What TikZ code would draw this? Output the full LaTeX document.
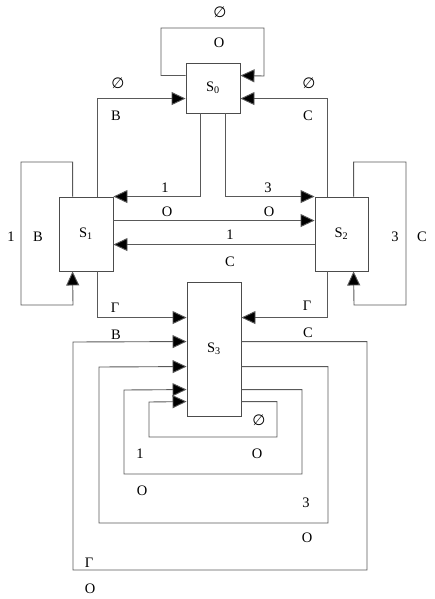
\documentclass[tikz,border=0pt]{standalone}
\usepackage{fontspec}
\setmainfont{Liberation Serif}
\newfontfamily\djv{DejaVu Sans}
\usetikzlibrary{arrows.meta}
\begin{document}
\begin{tikzpicture}[x=1pt,y=-1pt,
  ln/.style={draw=black!65, line width=0.9pt},
  arr/.style={ln, -{Triangle[length=14pt,width=13pt,fill=black]}},
  box/.style={draw=black!70, line width=0.9pt, rectangle, inner sep=0pt, fill=white,
     font=\fontsize{14.5}{16}\selectfont},
  lbl/.style={inner sep=0pt, font=\fontsize{14.5}{16}\selectfont},
  emp/.style={inner sep=0pt, font=\djv\fontsize{15}{16}\selectfont}]
\useasboundingbox (0,0) rectangle (434,599);
% boxes
\node[box, minimum width=54pt, minimum height=50pt] (S0) at (213,88) {S\textsubscript{0}};
\node[box, minimum width=54pt, minimum height=74pt] (S1) at (86,234) {S\textsubscript{1}};
\node[box, minimum width=53pt, minimum height=74pt] (S2) at (341.5,234) {S\textsubscript{2}};
\node[box, minimum width=54pt, minimum height=134pt] (S3) at (214,349) {S\textsubscript{3}};
% S0 self loop
\draw[arr] ([yshift=-13pt]S0.north west) -| (161,28) -| (264,76) -- ([yshift=-13pt]S0.north east);
% S1 -> S0, S2 -> S0
\draw[arr] ([xshift=39pt]S1.north west) |- ([yshift=-36pt]S0.north west);
\draw[arr] ([xshift=13pt]S2.north west) |- ([yshift=-36pt]S0.north east);
% S0 -> S1, S0 -> S2
\draw[arr] ([xshift=15pt]S0.south west) |- (S1.north east);
\draw[arr] ([xshift=40pt]S0.south west) |- (S2.north west);
% S1 <-> S2
\draw[arr] ([yshift=-24pt]S1.north east) -- ([yshift=-24pt]S2.north west);
\draw[arr] ([yshift=-48pt]S2.north west) -- ([yshift=-48pt]S1.north east);
% self loops S1, S2
\draw[arr] ([xshift=14pt]S1.north west) |- (21,162) |- (73,305) -- ([xshift=14pt]S1.south west);
\draw[arr] ([xshift=39pt]S2.north west) |- (406,162) |- (354,305) -- ([xshift=39pt]S2.south west);
% S1 -> S3, S2 -> S3
\draw[arr] ([xshift=39pt]S1.south west) |- ([yshift=-36pt]S3.north west);
\draw[arr] ([xshift=13pt]S2.south west) |- ([yshift=-36pt]S3.north east);
% S3 self loops
\draw[arr] ([yshift=-60pt]S3.north east) -| (367,570) -| (73,342) -- ([yshift=-60pt]S3.north west);
\draw[arr] ([yshift=-85pt]S3.north east) -| (328,523) -| (99,367) -- ([yshift=-85pt]S3.north west);
\draw[arr] ([yshift=-108pt]S3.north east) -| (302,474) -| (124,390) -- ([yshift=-108pt]S3.north west);
\draw[arr] ([yshift=-120pt]S3.north east) -| (277,437) -| (149,402) -- ([yshift=-120pt]S3.north west);
% labels
\node[emp] (e0) at (220,12) {∅};
\node[lbl] (l0) at (219,43) {О};
\node[emp] (e1) at (118,83) {∅};
\node[lbl] (l1) at (116,116) {В};
\node[emp] (e2) at (309,83) {∅};
\node[lbl] (l2) at (308,116) {С};
\node[lbl] (l3) at (165,188) {1};
\node[lbl] (l4) at (268,188) {3};
\node[lbl] (l5) at (11,237) {1};
\node[lbl] (l6) at (38,237) {В};
\node[lbl] (l7) at (167,212) {О};
\node[lbl] (l8) at (269,212) {О};
\node[lbl] (l9) at (230,235) {1};
\node[lbl] (l10) at (230,262) {С};
\node[lbl] (l11) at (395,237) {3};
\node[lbl] (l12) at (422,237) {С};
\node[lbl] (l13) at (115,308) {Г};
\node[lbl] (l14) at (307,306) {Г};
\node[lbl] (l15) at (116,335) {В};
\node[lbl] (l16) at (308,333) {С};
\node[emp] (e3) at (259,420) {∅};
\node[lbl] (l17) at (140,454) {1};
\node[lbl] (l18) at (257,454) {О};
\node[lbl] (l19) at (142,491) {О};
\node[lbl] (l20) at (306,503) {3};
\node[lbl] (l21) at (307,538) {О};
\node[lbl] (l22) at (89,563) {Г};
\node[lbl] (l23) at (90,589) {О};
\end{tikzpicture}
\end{document}
